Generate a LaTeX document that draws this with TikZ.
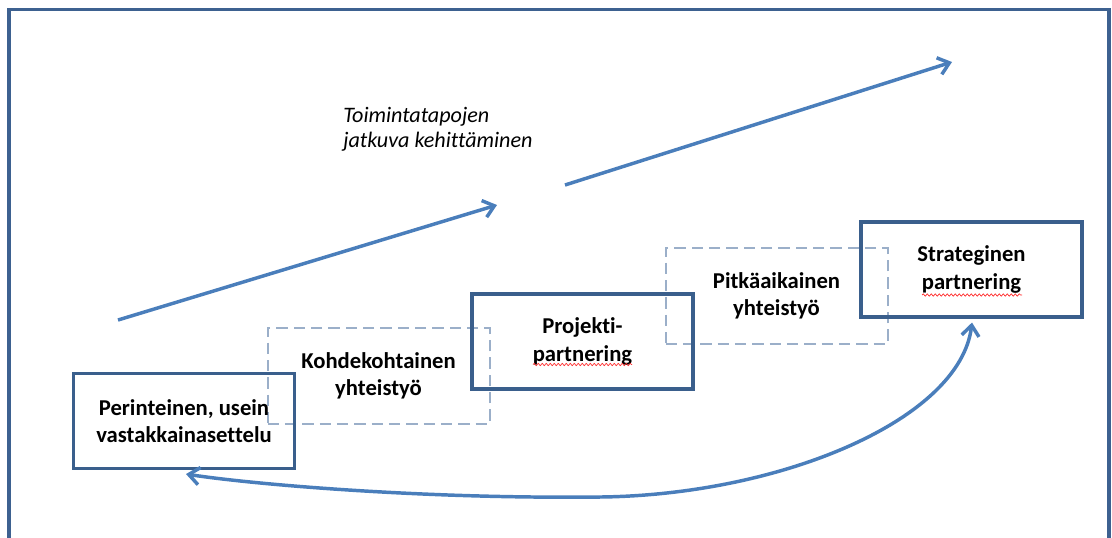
\documentclass[tikz,border=0pt]{standalone}
\usepackage{fontspec}
\setmainfont{Carlito}[Ligatures=CommonOff]
\usetikzlibrary{arrows.meta,decorations.pathmorphing,calc}
\definecolor{framec}{HTML}{3D6190}
\definecolor{boxc}{HTML}{3A5F8C}
\definecolor{arrc}{HTML}{4A7EBB}
\definecolor{dashc}{HTML}{9BAFC9}
\begin{document}
\begin{tikzpicture}[x=0.75pt,y=-0.75pt,
  solidbox/.style={draw=boxc, line width=2.3pt, minimum width=165.75pt, minimum height=71.25pt,
    align=center, inner sep=0pt, font=\bfseries\fontsize{17}{20.5}\selectfont},
  dashbox/.style={draw=dashc, line width=1.5pt, dash pattern=on 8.5pt off 4.5pt,
    minimum width=166.5pt, minimum height=72pt,
    align=center, inner sep=0pt, font=\bfseries\fontsize{17}{20.5}\selectfont},
  arr/.style={draw=arrc, line width=2.6pt, -{Straight Barb[length=8pt,width=13pt]}},
  twoarr/.style={draw=arrc, line width=2.6pt, {Straight Barb[length=8pt,width=13pt]}-{Straight Barb[length=8pt,width=13pt]}},
  squig/.style={draw=red!85, line width=0.5pt, decorate, decoration={snake, amplitude=0.9pt, segment length=3pt}},
  framel/.style={draw=framec, line width=2.4pt}
]
\useasboundingbox (0,0) rectangle (1112,537);
\clip (0,0) rectangle (1112,537);
% frame
\draw[framel] (9,560) -- (9,9.5) -- (1109,9.5) -- (1109,560);
% dashed boxes
\node[dashbox] (d1) at (378.5,376) {Kohdekohtainen\\yhteistyö};
\node[dashbox] (d2) at (776.5,296) {Pitkäaikainen\\yhteistyö};
% solid boxes
\node[solidbox] (b1) at (184,421) {Perinteinen, usein\\vastakkainasettelu};
\node[solidbox] (b2) at (582.5,341.5) {Projekti-\\partnering};
\node[solidbox] (b3) at (971.5,269.5) {Strateginen\\partnering};
% spell-check squiggles
\draw[squig] ($(b2.center)+(-49.5,23)$) -- ($(b2.center)+(49.5,23)$);
\draw[squig] ($(b3.center)+(-49.5,25.5)$) -- ($(b3.center)+(50.5,25.5)$);
% italic label
\node[anchor=west, align=left, inner sep=0pt, font=\itshape\fontsize{16.6}{19}\selectfont] (lbl) at (343,129) {Toimintatapojen\\jatkuva kehittäminen};
% straight arrows
\coordinate (a1s) at (118,320);
\coordinate (a1e) at (497,205);
\coordinate (a2s) at (565,185);
\coordinate (a2e) at (952,62);
\draw[arr] (a1s) -- (a1e);
\draw[arr] (a2s) -- (a2e);
% curved double arrow
\draw[twoarr] ($(b1.south)+(2,4)$) .. controls (250,484) and (420,499) .. (600,497)
   .. controls (780,495) and (960,420) .. ($(b3.south)+(0.5,4)$);
\end{tikzpicture}
\end{document}
